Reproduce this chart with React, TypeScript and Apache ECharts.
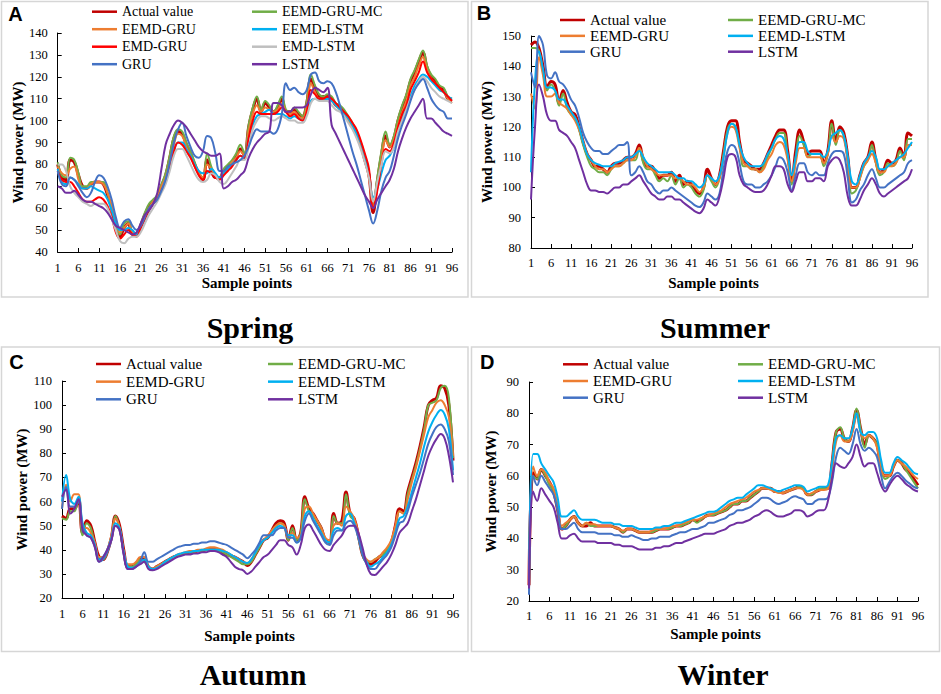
import React, { useEffect, useRef } from "react";
import * as echarts from "echarts";

// ---------- categories ----------
const sampleCount = 96;
const samplePoints = Array.from({ length: sampleCount }, (_, i) => String(i + 1));

// ---------- Spring (A) ----------
const springActual = [
  80, 74, 73, 82, 81, 75, 70, 69, 71, 72,
  72, 71, 66, 60, 52, 47, 51, 53, 48, 48,
  52, 57, 61, 63, 65, 70, 75, 83, 92, 95,
  94, 89, 85, 80, 76, 73, 82, 77, 74, 74,
  77, 79, 81, 84, 87, 84, 97, 105, 110, 104,
  108, 106, 104, 106, 110, 104, 104, 105, 103, 102,
  108, 119, 115, 111, 111, 111, 110, 107, 106, 104,
  101, 98, 94, 89, 82, 75, 58, 72, 84, 93,
  88, 92, 100, 106, 111, 118, 122, 127, 131, 124,
  120, 118, 115, 114, 110, 109,
];
const springEemdGruMc = [
  81, 75, 74, 83, 82, 76, 70, 70, 72, 72,
  72, 72, 67, 60, 52, 48, 53, 54, 49, 48,
  53, 58, 62, 64, 66, 71, 76, 84, 93, 96,
  95, 90, 86, 81, 76, 74, 85, 79, 75, 74,
  78, 80, 82, 85, 89, 85, 98, 106, 111, 105,
  109, 107, 104, 107, 111, 105, 104, 106, 104, 102,
  109, 121, 116, 112, 111, 112, 111, 108, 107, 105,
  102, 99, 95, 90, 83, 76, 62, 74, 86, 95,
  89, 93, 101, 107, 112, 119, 123, 128, 132, 125,
  121, 119, 116, 115, 111, 110,
];
const springEemdGru = [
  79, 76, 75, 78, 79, 73, 69, 69, 71, 72,
  72, 71, 67, 61, 54, 49, 51, 53, 49, 48,
  52, 56, 60, 63, 65, 70, 74, 81, 89, 94,
  93, 88, 84, 79, 76, 74, 80, 78, 75, 74,
  76, 78, 81, 83, 86, 84, 95, 103, 107, 104,
  106, 105, 104, 105, 108, 104, 103, 104, 102, 101,
  106, 117, 113, 110, 110, 110, 109, 107, 105, 103,
  100, 97, 93, 88, 82, 74, 61, 70, 82, 91,
  88, 91, 98, 104, 109, 116, 120, 125, 129, 123,
  119, 117, 114, 113, 110, 108,
];
const springEemdLstm = [
  78, 72, 71, 74, 73, 71, 69, 69, 70, 69,
  68, 67, 64, 59, 53, 50, 50, 51, 50, 48,
  51, 55, 59, 62, 64, 68, 73, 79, 86, 90,
  90, 87, 84, 80, 77, 76, 76, 78, 76, 74,
  76, 78, 80, 82, 84, 83, 92, 98, 102, 103,
  104, 105, 103, 103, 103, 102, 101, 102, 101, 100,
  103, 109, 110, 110, 109, 110, 109, 107, 105, 103,
  101, 98, 94, 90, 84, 76, 65, 69, 76, 82,
  84, 88, 95, 101, 106, 111, 116, 119, 121, 120,
  118, 116, 114, 113, 111, 110,
];
const springEmdGru = [
  77, 73, 72, 72, 70, 67, 64, 63, 63, 64,
  65, 64, 61, 56, 49, 46, 48, 50, 48, 47,
  51, 55, 59, 62, 64, 68, 72, 79, 86, 90,
  89, 86, 83, 79, 75, 73, 77, 76, 74, 73,
  75, 77, 79, 82, 84, 83, 92, 100, 104, 103,
  103, 103, 103, 104, 106, 104, 102, 103, 101, 100,
  104, 114, 112, 110, 110, 111, 110, 108, 106, 104,
  102, 99, 96, 91, 85, 78, 60, 68, 80, 87,
  86, 90, 97, 103, 107, 114, 118, 122, 127, 122,
  119, 117, 115, 113, 111, 109,
];
const springEmdLstm = [
  80, 80, 77, 70, 67, 65, 63, 62, 61, 62,
  62, 62, 60, 55, 50, 45, 44, 46, 47, 47,
  49, 53, 57, 60, 63, 67, 71, 77, 84, 87,
  87, 84, 80, 76, 73, 72, 73, 76, 75, 72,
  71, 73, 76, 79, 82, 82, 88, 96, 100, 102,
  102, 101, 100, 101, 102, 101, 100, 100, 99, 99,
  102, 108, 110, 109, 109, 109, 107, 105, 104, 102,
  99, 96, 92, 87, 81, 74, 63, 72, 80, 86,
  85, 88, 95, 100, 105, 110, 114, 118, 120, 118,
  115, 113, 111, 110, 109, 108,
];
const springGru = [
  77, 71, 70, 74, 73, 70, 67, 65, 67, 72,
  75, 74, 70, 64, 56, 51, 54, 55, 52, 50,
  52, 56, 60, 62, 64, 68, 73, 81, 90, 96,
  99, 93, 88, 84, 83, 86, 93, 92, 85, 77,
  77, 79, 80, 81, 82, 84, 88, 93, 96, 95,
  95, 95, 94, 96, 103, 117, 114, 115, 113, 112,
  114, 121, 122, 118, 117, 118, 117, 113, 107, 100,
  93, 86, 80, 73, 66, 59, 53, 59, 68, 74,
  77, 84, 92, 98, 103, 109, 114, 117, 119, 115,
  110, 107, 105, 104, 101, 101,
];
const springLstm = [
  70, 69, 67, 67, 68, 66, 64, 63, 63, 62,
  61, 60, 58, 55, 52, 51, 50, 49, 48, 49,
  53, 57, 59, 62, 67, 78, 89, 94, 98, 100,
  99, 97, 94, 91, 88, 86, 85, 84, 84, 85,
  69, 70, 72, 73, 75, 77, 83, 87, 90, 92,
  94, 95, 108, 108, 107, 104, 104, 106, 106, 106,
  107, 112, 115, 114, 113, 115, 98, 94, 90, 86,
  82, 78, 74, 70, 66, 63, 60, 64, 67, 70,
  73, 78, 86, 92, 97, 101, 104, 107, 110, 101,
  101, 99, 97, 95, 94, 93,
];

// ---------- Summer (B) ----------
const summerActual = [
  147, 148, 146, 140, 133, 135, 134, 128, 132, 128,
  125, 124, 120, 115, 111, 109, 107, 107, 106, 105,
  107, 108, 108, 109, 110, 110, 111, 114, 109, 107,
  107, 105, 103, 104, 104, 105, 102, 104, 101, 102,
  101, 99, 98, 100, 106, 103, 101, 104, 112, 120,
  122, 122, 115, 109, 108, 107, 106, 106, 108, 111,
  114, 117, 119, 119, 112, 102, 112, 119, 115, 111,
  112, 112, 112, 108, 112, 122, 115, 120, 118, 110,
  100, 100, 104, 108, 110, 115, 109, 105, 106, 109,
  108, 109, 113, 110, 118, 117,
];
const summerEemdGruMc = [
  146, 146, 145, 138, 132, 134, 132, 127, 131, 126,
  124, 123, 119, 114, 110, 107, 106, 105, 105, 104,
  106, 107, 107, 108, 109, 109, 109, 113, 108, 106,
  106, 104, 102, 103, 102, 104, 101, 103, 100, 101,
  100, 98, 97, 99, 104, 102, 100, 103, 111, 119,
  121, 120, 114, 107, 107, 106, 106, 105, 107, 110,
  113, 116, 118, 118, 110, 101, 110, 117, 114, 110,
  111, 111, 111, 107, 111, 121, 114, 119, 117, 109,
  98, 99, 103, 107, 109, 114, 108, 104, 105, 108,
  107, 108, 112, 109, 116, 116,
];
const summerEemdGru = [
  131, 126, 143, 137, 130, 130, 131, 128, 127, 126,
  124, 122, 119, 115, 111, 109, 107, 106, 106, 105,
  106, 107, 107, 108, 109, 109, 110, 113, 110, 107,
  106, 105, 104, 104, 104, 104, 103, 103, 102, 101,
  101, 100, 98.5, 100, 104, 103, 101, 103, 110, 118,
  120, 119, 113, 108, 107, 106, 106, 105, 106, 109,
  111, 114, 115, 114, 109, 102, 108, 113, 113, 110,
  110, 110, 110, 108, 111, 117, 115, 117, 116, 108,
  100, 100, 103, 107, 109, 111, 108, 105, 105, 107,
  107, 108, 110, 110, 114, 114,
];
const summerEemdLstm = [
  105, 135, 145, 139, 133, 133, 132, 129, 129, 127,
  125, 123, 120, 115, 111, 109, 108, 107.5, 107, 107,
  107, 108, 108.5, 109, 110, 110, 111, 112, 110, 108,
  107, 106, 105, 105, 105, 105, 104, 103, 103, 102,
  102, 101, 100, 101, 104, 103, 102, 104, 110, 118,
  121, 120, 114, 110, 108, 107, 107, 107, 108, 111,
  113, 116, 117, 116, 111, 104, 110, 115, 115, 112,
  111, 111, 111, 110, 112, 117, 118, 119, 117, 110,
  102, 101, 104, 108, 110, 112, 110, 106, 106, 107,
  108, 109, 110, 111, 113, 115,
];
const summerGru = [
  138, 133, 150, 147, 137, 136, 138, 135, 134, 132,
  129, 127, 123, 118, 115, 113, 112, 112, 111, 111,
  112, 113, 114, 114, 115, 104, 105, 107, 105, 102,
  101, 99, 98, 99, 99, 100, 99, 98, 97, 96,
  95, 94, 93.5, 95, 98, 97, 96, 98, 106, 112,
  114, 113, 108, 102, 101, 101, 100, 100, 101, 102,
  104, 107, 110, 109, 105, 99, 104, 108, 108, 105,
  104, 105, 104, 104, 108, 111, 112, 112, 111, 103,
  95, 96, 99, 101, 104, 106, 103, 100, 100, 101,
  102, 103, 104, 105, 108, 109,
];
const summerLstm = [
  96, 120, 134, 130, 124, 122, 122, 119, 118, 117,
  115, 113, 109, 105, 101, 99, 99, 98.5, 98.5, 98,
  99, 100, 100, 101, 101, 102, 103, 104, 102, 100,
  98, 97, 96, 96, 97, 97, 96, 96, 95, 94,
  93, 92, 91.5, 93, 96, 95, 94, 97, 103, 110,
  111, 110, 104, 101, 100, 99, 98.5, 98.5, 99, 101,
  104, 107, 107, 106, 101, 98.5, 102, 105, 105, 102,
  102, 103, 103, 102, 107, 109, 110, 109, 105, 97,
  94, 94, 96, 99, 101, 103, 101, 98, 97, 98,
  99, 100, 101, 102, 103, 106,
];

// ---------- Autumn (C) ----------
const autumnActual = [
  54, 53, 57, 57, 61, 47, 52, 50, 43, 37,
  36, 39, 45, 54, 50, 40, 33, 33, 34, 36,
  36, 33, 32, 33, 34, 35, 36, 37, 37.5, 38,
  38.5, 39, 39, 39.5, 39.5, 40, 40, 40, 40, 39,
  38, 37.5, 37, 36, 35, 33.5, 35, 38, 41, 44,
  45, 48, 51, 52, 51, 44, 50, 44, 47, 62,
  57, 55, 52, 49, 44, 43, 55, 51, 52, 64,
  55, 53, 46, 38, 35, 34, 35, 37, 38, 40,
  43, 50, 57, 56, 64, 70, 76, 83, 91, 100,
  102, 103, 108, 107, 100, 77,
];
const autumnEemdGruMc = [
  53, 52.5, 56, 56, 61, 46, 51, 49, 42, 36,
  36, 39, 45, 54, 49, 39, 33, 33, 34, 36,
  35, 33, 32, 33, 34, 35, 36, 37, 37.5, 38,
  38.5, 39, 39, 39.5, 39.5, 40, 40, 40, 39.5, 39,
  38, 37, 36, 35, 34, 34, 35, 38, 41, 44,
  45, 48, 50, 51, 50, 44, 49, 44, 47, 61,
  56, 54, 52, 49, 44, 43, 54, 51, 51, 63,
  54, 52, 45, 38, 35, 35, 36, 37, 38, 40,
  43, 49, 56, 55, 63, 69, 75, 82, 90, 100,
  101, 102, 107, 108, 103, 78,
];
const autumnEemdGru = [
  57, 67, 60, 63, 63, 49, 49, 47, 43, 37,
  37, 40, 46, 53, 49, 39, 34, 34, 35, 37,
  37, 33, 32, 33, 34, 35, 36, 37, 38, 38.5,
  39, 39.5, 39.5, 40, 40, 40.5, 41, 41, 40.5, 40,
  39, 38, 37, 36, 35, 34.5, 36, 39, 42, 44,
  46, 48, 50, 51, 50, 45, 47, 45, 46, 57,
  58, 55, 52, 49, 45, 44, 50, 51, 50, 58,
  56, 53, 47, 39, 36, 35, 36, 37, 39, 41,
  44, 50, 56, 55, 61, 68, 74, 81, 88, 95,
  98, 101, 102, 100, 95, 79,
];
const autumnEemdLstm = [
  60, 71, 61, 59, 62, 51, 47, 46, 42, 36,
  37, 40, 45, 51, 49, 39, 33, 32.5, 33, 35,
  36, 33, 32, 32.5, 33.5, 35, 36, 37, 38, 38.5,
  39, 39, 39.5, 39.5, 40, 40, 40, 40, 40, 39.5,
  39, 38, 37, 36, 35, 34.5, 36, 39, 42, 44,
  45, 47, 49, 50, 49, 46, 46, 43, 45, 54,
  56, 53, 50, 47, 44, 43, 48, 49, 48, 54,
  55, 51, 46, 39, 35, 33, 34, 35, 37, 39,
  42, 47, 53, 54, 58, 64, 70, 76, 83, 89,
  93, 96, 98, 96, 90, 73,
];
const autumnGru = [
  57, 66, 58, 58, 60, 50, 46, 45, 41, 35,
  36, 39, 44, 50, 48, 38, 32, 32, 33, 35,
  39, 35, 35, 36, 37, 38, 39, 40, 41, 41.5,
  42, 42, 42.5, 42.5, 43, 43, 43.5, 43.5, 43, 42.5,
  42, 41, 40, 39, 38, 36.5, 38, 40, 43, 46,
  46, 46, 48, 49, 49, 45, 45, 43, 45, 52,
  55, 52, 49, 46, 43, 42, 46, 48, 48, 51,
  52, 50, 45, 38, 34, 32, 32, 34, 36, 38,
  41, 46, 51, 52, 56, 62, 67, 72, 78, 84,
  88, 91, 92, 90, 85, 71,
];
const autumnLstm = [
  62, 65, 55, 57, 61, 48, 46, 45, 41, 35,
  37, 40, 44, 50, 48, 38, 32, 32, 33, 34,
  35, 32, 31.5, 32, 33, 34, 35, 36, 37, 37.5,
  38, 38, 38.5, 38.5, 39, 39, 39.5, 39.5, 39, 38,
  37, 35, 33, 32, 31.5, 30, 31, 33, 35, 37,
  38, 40, 42, 44, 44, 42, 41, 38, 42, 49,
  50.5, 48, 45, 42, 40, 39.5, 42, 44, 46, 49,
  50, 50, 47, 41, 34, 30, 29.5, 31, 33, 35,
  38, 42, 47, 49, 51, 56, 61, 67, 73, 79,
  83, 86, 88, 86, 79, 68,
];

// ---------- Winter (D) ----------
const winterActual = [
  25, 61, 59, 62, 60, 58, 55, 49, 43, 44,
  46, 47, 45, 44, 44, 45, 44, 44, 44, 44,
  44, 43.5, 43, 42, 43, 43, 42.5, 42, 42, 42,
  42, 42.5, 43, 43, 43, 43.5, 44, 44, 44.5, 45,
  46, 45.5, 46, 47, 47.5, 47.5, 48, 48.5, 49, 50,
  51, 51, 52, 52, 53, 54, 55, 56, 56, 56,
  55, 55, 54.5, 55, 55.5, 56, 56.5, 56, 54, 54,
  55, 55.5, 56, 56, 64, 74, 75, 72, 71, 75,
  81, 75, 70, 73, 72, 70, 62, 60, 60, 63,
  65, 64, 62, 61, 59, 57,
];
const winterEemdGruMc = [
  24, 60, 59, 62, 60, 57, 55, 49, 43, 44,
  46, 47, 45, 44, 45, 44, 44, 44, 44, 44,
  44, 43.5, 43, 42, 43, 43, 42.5, 42, 42, 42,
  42, 42.5, 43, 43, 43, 43.5, 44, 44, 44.5, 45,
  46, 45, 46, 47, 47.5, 47.5, 48, 48.5, 49, 50,
  51, 51, 52, 52, 53, 54, 55, 56, 56, 56,
  55, 55, 54.5, 55, 55.5, 56, 56.5, 56, 54, 54,
  55, 56, 56, 56, 64, 74, 75.5, 72, 71, 75,
  81.5, 75, 69, 73, 72, 70, 62, 59, 60, 63,
  65, 64, 62, 60, 58, 56,
];
const winterEemdGru = [
  24, 63, 60, 62, 61, 58, 56, 50, 44, 45,
  46, 47, 45, 44, 45, 44.5, 44.5, 44, 44, 44,
  44, 43.5, 43, 42.5, 43, 43, 42.5, 42, 42, 42,
  42.5, 43, 43, 43, 43.5, 44, 44, 44.5, 45, 45.5,
  46, 46, 46.5, 47, 47.5, 48, 48.5, 49, 50, 51,
  51.5, 52, 52.5, 53, 54, 55, 55.5, 56, 56, 55.5,
  55, 54.5, 54.5, 55, 55.5, 56, 56, 55.5, 54, 54.5,
  55, 55.5, 55.5, 56, 62, 71, 73, 71, 71, 74,
  79, 74, 72, 73, 72, 69, 62, 60, 60, 63,
  65, 64, 63, 61.5, 60, 59,
];
const winterEemdLstm = [
  27, 67, 67, 64, 62, 60, 58, 53, 47, 47,
  48, 49, 47, 46, 46, 46, 46, 45.5, 45, 45,
  45, 44.5, 44.5, 44, 44, 44, 43.5, 43, 43, 43,
  43, 43.5, 43.5, 44, 44, 44.5, 45, 45, 45.5, 46,
  46.5, 47, 47.5, 48, 48.5, 48.5, 49, 50, 51, 52,
  52.5, 53, 53, 54, 55, 56, 57, 57, 56.5, 56,
  55.5, 55, 55.5, 56, 56.5, 57, 57, 56.5, 55, 55.5,
  56, 56.5, 56.5, 57, 64, 72, 73, 72, 72, 75,
  80, 74, 73, 74, 74, 72, 65, 61, 61, 64,
  66, 65, 64, 62.5, 61, 60.5,
];
const winterGru = [
  22, 60, 57, 60, 58, 56, 54, 49, 43, 43,
  44, 45, 43, 42, 42, 42, 42, 41.5, 41.5, 41.5,
  41.5, 41, 41, 40.5, 40.5, 41, 40.5, 40, 39.5, 39.5,
  40, 40, 40.5, 40.5, 40.5, 41, 41.5, 42, 42, 42.5,
  43, 43, 43.5, 44, 45, 45, 45.5, 46, 46.5, 47.5,
  48, 49, 49, 49.5, 50, 51, 52, 53, 53, 52.5,
  51.5, 51, 51.5, 52, 53, 53.5, 53, 52.5, 51, 51,
  52, 52.5, 52.5, 53, 58, 66, 69, 68, 67, 70,
  75, 70, 68, 69, 68, 66, 60, 56, 58, 60,
  61, 60, 58.5, 57.5, 56.5, 56,
];
const winterLstm = [
  24, 55, 52, 56, 54, 52, 50, 45, 40, 40,
  41, 41.5, 40, 39, 39, 39, 39, 38.5, 38.5, 38.5,
  38.5, 38, 38, 37.5, 37.5, 37.5, 37, 36.5, 36.5, 36.5,
  36.5, 37, 37, 37.5, 37.5, 38, 38.5, 38.5, 39, 39.5,
  40, 40.5, 41, 41.5, 41.5, 41.5, 42, 42.5, 43, 44,
  44.5, 45, 45, 45.5, 46, 47, 47.5, 48.5, 49, 48.5,
  47.5, 47, 47, 47.5, 48, 49, 49, 48.5, 47, 47.5,
  48.5, 49, 49, 52, 59, 64, 63, 62.5, 64, 66,
  70, 66, 63, 64, 64, 61, 57, 55, 57, 59,
  60, 59, 57.5, 56.5, 55.5, 55,
];

// ---------- styles ----------
const SERIF = '"Liberation Serif", "Times New Roman", serif';
const SANS = '"Liberation Sans", Arial, sans-serif';
const seriesColor: Record<string, string> = {
  "Actual value": "#C00000",
  "EEMD-GRU-MC": "#70AD47",
  "EEMD-GRU": "#ED7D31",
  "EEMD-LSTM": "#00B0F0",
  "EMD-GRU": "#FF0000",
  "EMD-LSTM": "#BFBFBF",
  GRU: "#4472C4",
  LSTM: "#7030A0",
};

type Panel = {
  grid: { left: number; top: number; width: number; height: number };
  min: number;
  max: number;
  lines: [string, number[]][];
  col1: string[];
  col2: string[];
  legendLeft: [number, number];
  legendTop: number;
  legendFont: number;
  legendLine: number;
  legendGap: number;
  yNameGap: number;
  xNameGap: number;
  xLabelMargin: number;
};

const panels: Panel[] = [
  {
    grid: { left: 57.7, top: 33, width: 394.3, height: 219 },
    min: 40,
    max: 140,
    lines: [
      ["Actual value", springActual],
      ["EEMD-GRU-MC", springEemdGruMc],
      ["EEMD-GRU", springEemdGru],
      ["EEMD-LSTM", springEemdLstm],
      ["EMD-GRU", springEmdGru],
      ["EMD-LSTM", springEmdLstm],
      ["GRU", springGru],
      ["LSTM", springLstm],
    ],
    col1: ["Actual value", "EEMD-GRU", "EMD-GRU", "GRU"],
    col2: ["EEMD-GRU-MC", "EEMD-LSTM", "EMD-LSTM", "LSTM"],
    legendLeft: [92, 252],
    legendTop: 3.7,
    legendFont: 14,
    legendLine: 16,
    legendGap: 1.5,
    yNameGap: 32,
    xNameGap: 23.5,
    xLabelMargin: 9,
  },
  {
    grid: { left: 531, top: 36, width: 381, height: 212 },
    min: 80,
    max: 150,
    lines: [
      ["Actual value", summerActual],
      ["EEMD-GRU-MC", summerEemdGruMc],
      ["EEMD-GRU", summerEemdGru],
      ["EEMD-LSTM", summerEemdLstm],
      ["GRU", summerGru],
      ["LSTM", summerLstm],
    ],
    col1: ["Actual value", "EEMD-GRU", "GRU"],
    col2: ["EEMD-GRU-MC", "EEMD-LSTM", "LSTM"],
    legendLeft: [560, 728],
    legendTop: 12.5,
    legendFont: 15,
    legendLine: 15,
    legendGap: 0.85,
    yNameGap: 37,
    xNameGap: 27.5,
    xLabelMargin: 8,
  },
  {
    grid: { left: 62, top: 381, width: 391, height: 217 },
    min: 20,
    max: 110,
    lines: [
      ["Actual value", autumnActual],
      ["EEMD-GRU-MC", autumnEemdGruMc],
      ["EEMD-GRU", autumnEemdGru],
      ["EEMD-LSTM", autumnEemdLstm],
      ["GRU", autumnGru],
      ["LSTM", autumnLstm],
    ],
    col1: ["Actual value", "EEMD-GRU", "GRU"],
    col2: ["EEMD-GRU-MC", "EEMD-LSTM", "LSTM"],
    legendLeft: [96, 268],
    legendTop: 356,
    legendFont: 15,
    legendLine: 16,
    legendGap: 1.65,
    yNameGap: 32,
    xNameGap: 30,
    xLabelMargin: 9,
  },
  {
    grid: { left: 529, top: 382, width: 389, height: 219 },
    min: 20,
    max: 90,
    lines: [
      ["Actual value", winterActual],
      ["EEMD-GRU-MC", winterEemdGruMc],
      ["EEMD-GRU", winterEemdGru],
      ["EEMD-LSTM", winterEemdLstm],
      ["GRU", winterGru],
      ["LSTM", winterLstm],
    ],
    col1: ["Actual value", "EEMD-GRU", "GRU"],
    col2: ["EEMD-GRU-MC", "EEMD-LSTM", "LSTM"],
    legendLeft: [563, 738],
    legendTop: 356.3,
    legendFont: 15,
    legendLine: 16,
    legendGap: 0.7,
    yNameGap: 31,
    xNameGap: 25.5,
    xLabelMargin: 8,
  },
];

const frames = [
  { x: 1.5, y: 1.5, width: 466.5, height: 295.5 },
  { x: 471.5, y: 1.5, width: 456.5, height: 295.5 },
  { x: 1.5, y: 347, width: 466.5, height: 304.5 },
  { x: 471.5, y: 347, width: 468, height: 304.5 },
];
const panelLetters = [
  { text: "A", x: 8.3, y: 14 },
  { text: "B", x: 476.7, y: 13.3 },
  { text: "C", x: 9.3, y: 361.5 },
  { text: "D", x: 480, y: 361.5 },
];
const seasonTitles = [
  { text: "Spring", x: 250, y: 327 },
  { text: "Summer", x: 715, y: 327 },
  { text: "Autumn", x: 253, y: 674 },
  { text: "Winter", x: 723, y: 674 },
];

function buildOption() {
  const grid: any[] = [];
  const xAxis: any[] = [];
  const yAxis: any[] = [];
  const legend: any[] = [];
  const series: any[] = [];

  panels.forEach((p, i) => {
    grid.push({ ...p.grid, containLabel: false });
    xAxis.push({
      type: "category",
      gridIndex: i,
      data: samplePoints,
      boundaryGap: false,
      name: "Sample points",
      nameLocation: "middle",
      nameGap: p.xNameGap,
      nameTextStyle: {
        fontFamily: SERIF,
        fontSize: 15,
        fontWeight: "bold",
        color: "#000",
        padding: [0, 16, 0, 0],
      },
      axisLine: { show: true, lineStyle: { color: "#000", width: 1 } },
      axisTick: { show: true, inside: true, interval: 4, length: 4, lineStyle: { color: "#000" } },
      axisLabel: {
        interval: 4,
        margin: p.xLabelMargin,
        fontFamily: SERIF,
        fontSize: 12.5,
        color: "#000",
      },
      splitLine: { show: false },
    });
    yAxis.push({
      type: "value",
      gridIndex: i,
      min: p.min,
      max: p.max,
      interval: 10,
      name: "Wind power (MW)",
      nameLocation: "middle",
      nameRotate: 90,
      nameGap: p.yNameGap,
      nameTextStyle: {
        fontFamily: SERIF,
        fontSize: 15,
        fontWeight: "bold",
        color: "#000",
      },
      axisLine: { show: true, lineStyle: { color: "#000", width: 1 } },
      axisTick: { show: true, inside: true, length: 4, lineStyle: { color: "#000" } },
      axisLabel: { margin: 10, fontFamily: SERIF, fontSize: 12.5, color: "#000" },
      splitLine: { show: false },
    });
    [p.col1, p.col2].forEach((col, c) => {
      legend.push({
        data: col.map((name) => ({ name, icon: "rect" })),
        orient: "vertical",
        left: p.legendLeft[c],
        top: p.legendTop,
        padding: 0,
        itemGap: p.legendGap,
        itemWidth: 25,
        itemHeight: 2.5,
        selectedMode: false,
        itemStyle: { borderWidth: 0 },
        textStyle: {
          fontFamily: SERIF,
          fontSize: p.legendFont,
          lineHeight: p.legendLine,
          color: "#000",
        },
      });
    });
    p.lines.forEach(([name, data]) => {
      const isActual = name === "Actual value";
      series.push({
        type: "line",
        name,
        data,
        xAxisIndex: i,
        yAxisIndex: i,
        symbol: "none",
        showSymbol: false,
        smooth: 0.4,
        color: seriesColor[name],
        itemStyle: { color: seriesColor[name] },
        lineStyle: { color: seriesColor[name], width: isActual ? 3 : 2 },
        emphasis: { disabled: true },
      });
    });
  });

  const graphic: any[] = [];
  frames.forEach((f) =>
    graphic.push({
      type: "rect",
      shape: f,
      style: { fill: "none", stroke: "#d6d6d6", lineWidth: 1.5 },
      silent: true,
    })
  );
  panelLetters.forEach((l) =>
    graphic.push({
      type: "text",
      x: l.x,
      y: l.y,
      style: {
        text: l.text,
        fontFamily: SANS,
        fontSize: 20,
        fontWeight: "bold",
        fill: "#000",
        align: "left",
        verticalAlign: "middle",
      },
    })
  );
  seasonTitles.forEach((t) =>
    graphic.push({
      type: "text",
      x: t.x,
      y: t.y,
      style: {
        text: t.text,
        fontFamily: SERIF,
        fontSize: 30,
        fontWeight: "bold",
        fill: "#000",
        align: "center",
        verticalAlign: "middle",
      },
    })
  );

  return {
    animation: false,
    backgroundColor: "#ffffff",
    grid,
    xAxis,
    yAxis,
    legend,
    series,
    graphic,
  };
}

export default function App() {
  const ref = useRef<HTMLDivElement>(null);
  useEffect(() => {
    if (!ref.current) return;
    const chart = echarts.init(ref.current, null, { renderer: "svg", width: 941, height: 694 });
    chart.setOption(buildOption());
    return () => chart.dispose();
  }, []);
  return (
    <div
      ref={ref}
      style={{ position: "absolute", left: 0, top: 0, width: 941, height: 694, background: "#fff" }}
    />
  );
}
